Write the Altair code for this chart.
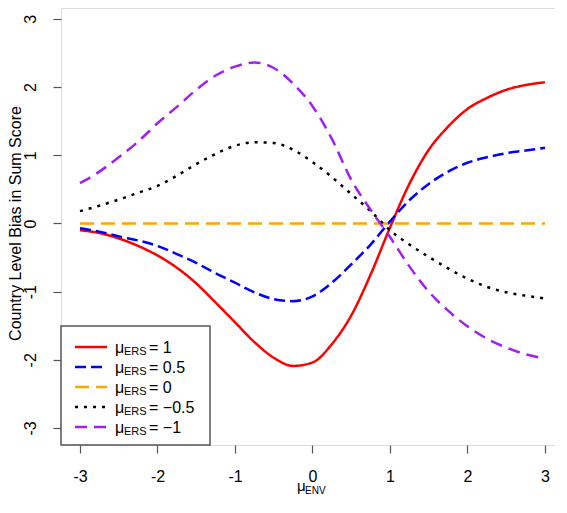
import altair as alt
import pandas as pd

# ---- data ----
x_vals = [-3.0, -2.75, -2.5, -2.25, -2.0, -1.75, -1.5, -1.25, -1.0, -0.75, -0.5, -0.25,
          0.0, 0.25, 0.5, 0.75, 1.0, 1.25, 1.5, 1.75, 2.0, 2.25, 2.5, 2.75, 3.0]

bias_ers_1 = [-0.10, -0.14, -0.22, -0.33, -0.47, -0.65, -0.88, -1.16, -1.45, -1.74, -1.97, -2.09,
              -2.04, -1.77, -1.35, -0.75, -0.06, 0.58, 1.08, 1.42, 1.68, 1.84, 1.96, 2.03, 2.07]
bias_ers_05 = [-0.07, -0.12, -0.19, -0.25, -0.33, -0.45, -0.58, -0.73, -0.87, -1.01, -1.11, -1.14,
               -1.07, -0.87, -0.60, -0.31, 0.03, 0.34, 0.58, 0.76, 0.89, 0.97, 1.03, 1.07, 1.11]
bias_ers_0 = [0.0] * 25
bias_ers_m05 = [0.18, 0.26, 0.35, 0.45, 0.55, 0.70, 0.87, 1.02, 1.14, 1.19, 1.18, 1.08,
                0.90, 0.68, 0.43, 0.18, -0.10, -0.31, -0.49, -0.66, -0.81, -0.93, -1.01, -1.06, -1.10]
bias_ers_m1 = [0.59, 0.76, 0.97, 1.20, 1.47, 1.71, 1.96, 2.17, 2.30, 2.36, 2.28, 2.05,
               1.72, 1.24, 0.64, 0.20, -0.20, -0.63, -1.00, -1.28, -1.51, -1.69, -1.82, -1.92, -1.98]

series_keys = ["1", "0.5", "0", "-0.5", "-1"]
series_text = ["= 1", "= 0.5", "= 0", "= \u22120.5", "= \u22121"]
series_colors = ["#FF0000", "#0000FF", "#FFA500", "#000000", "#A020F0"]
series_dashes = [[1, 0], [11, 5], [14, 7], [3, 6], [12, 7]]
all_series = [bias_ers_1, bias_ers_05, bias_ers_0, bias_ers_m05, bias_ers_m1]

tick_values = [-3, -2, -1, 0, 1, 2, 3]

rows = []
for key, vals in zip(series_keys, all_series):
    for xv, yv in zip(x_vals, vals):
        rows.append({"x": xv, "y": yv, "series": key})
df = pd.DataFrame(rows)

legend_df = pd.DataFrame({
    "series": series_keys,
    "label": series_text,
    "row": list(range(len(series_keys))),
})

FONT = "Liberation Sans"

color_scale = alt.Scale(domain=series_keys, range=series_colors)
dash_scale = alt.Scale(domain=series_keys, range=series_dashes)

xscale = alt.Scale(domain=[-3.245, 3.129], nice=False, zero=False)
yscale = alt.Scale(domain=[-3.25, 3.16], nice=False, zero=False)

lines = alt.Chart(df).mark_line(strokeWidth=2.5, interpolate="monotone", strokeCap="butt").encode(
    x=alt.X("x:Q", scale=xscale,
            axis=alt.Axis(values=tick_values, title=None, grid=False, domain=False,
                          tickSize=8, tickWidth=1.2, tickColor="#555555",
                          labelFontSize=16, labelPadding=15, labelColor="#000000",
                          labelFont=FONT, labelExpr="datum.value + ''")),
    y=alt.Y("y:Q", scale=yscale,
            axis=alt.Axis(values=tick_values, title="Country Level Bias in Sum Score",
                          grid=False, domain=False,
                          tickSize=8, tickWidth=1.2, tickColor="#555555",
                          labelFontSize=16, labelPadding=18, labelColor="#000000",
                          labelFont=FONT, labelAngle=-90, labelAlign="center",
                          labelBaseline="alphabetic", labelExpr="datum.value + ''",
                          titleFont=FONT, titleFontSize=16, titleFontWeight="normal",
                          titleColor="#000000", titleX=-41, titleY=215,
                          titleBaseline="alphabetic", titleAngle=270)),
    color=alt.Color("series:N", scale=color_scale, legend=None),
    strokeDash=alt.StrokeDash("series:N", scale=dash_scale, legend=None),
)

# ---- hand-drawn legend (R style) ----
legend_box = alt.Chart(pd.DataFrame({"a": [0]})).mark_rect(
    fill="white", stroke="#555555", strokeWidth=1.5
).encode(x=alt.value(0), x2=alt.value(149), y=alt.value(318), y2=alt.value(437))

leg_base = alt.Chart(legend_df).transform_calculate(
    ly="339 + 20 * datum.row",
    ty="345 + 20 * datum.row",
    sy="347 + 20 * datum.row",
)

leg_lines = leg_base.mark_rule(strokeWidth=2.5, strokeCap="butt").encode(
    x=alt.value(14), x2=alt.value(46),
    y=alt.Y("ly:Q", scale=None),
    color=alt.Color("series:N", scale=color_scale, legend=None),
    strokeDash=alt.StrokeDash("series:N", scale=dash_scale, legend=None),
)

leg_mu = leg_base.mark_text(text="\u03bc", font=FONT, fontSize=16, align="left",
                            baseline="alphabetic", color="black").encode(
    x=alt.value(54), y=alt.Y("ty:Q", scale=None))
leg_sub = leg_base.mark_text(text="ERS", font=FONT, fontSize=11, align="left",
                             baseline="alphabetic", color="black").encode(
    x=alt.value(63), y=alt.Y("sy:Q", scale=None))
leg_val = leg_base.mark_text(font=FONT, fontSize=16, align="left",
                             baseline="alphabetic", color="black").encode(
    x=alt.value(88), y=alt.Y("ty:Q", scale=None), text="label:N")

# ---- x axis title with subscript ----
one = pd.DataFrame({"a": [0]})
xt_mu = alt.Chart(one).mark_text(text="\u03bc", font=FONT, fontSize=15, align="left",
                                 baseline="alphabetic", color="black").encode(
    x=alt.value(236), y=alt.value(483))
xt_sub = alt.Chart(one).mark_text(text="ENV", font=FONT, fontSize=10, align="left",
                                  baseline="alphabetic", color="black").encode(
    x=alt.value(244), y=alt.value(486))

chart = alt.layer(
    lines, legend_box, leg_lines, leg_mu, leg_sub, leg_val, xt_mu, xt_sub
).properties(
    width=494, height=437,
    autosize=alt.AutoSizeParams(type="none"),
    padding={"left": 53, "top": 0, "right": 0, "bottom": 53},
).configure_view(
    stroke="#666666", strokeWidth=1.5
).configure(background="white")

chart.save("out.html", embed_options={"renderer": "svg", "actions": False})
